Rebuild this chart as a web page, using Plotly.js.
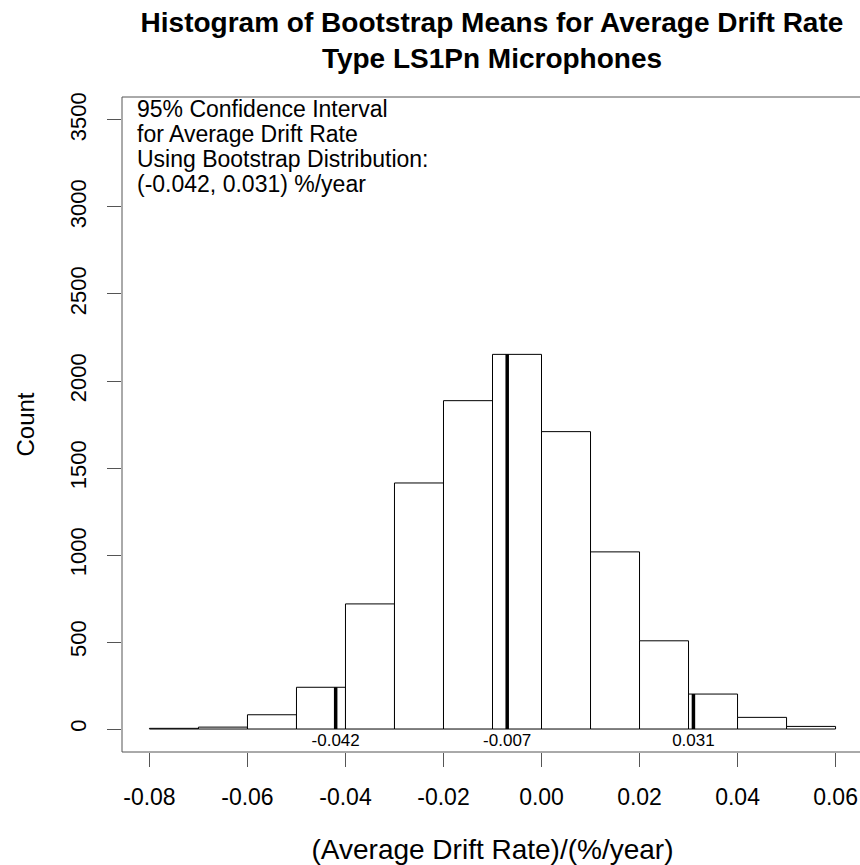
<!DOCTYPE html>
<html>
<head>
<meta charset="utf-8">
<script src="https://cdn.plot.ly/plotly-3.0.1.min.js"></script>
<style>html,body{margin:0;padding:0;background:#fff;overflow:hidden;}#chart{width:863px;height:865px;}</style>
</head>
<body>
<div id="chart"></div>
<script>
// ---- data ----
var binEdges = [-0.08, -0.07, -0.06, -0.05, -0.04, -0.03, -0.02, -0.01, 0.00, 0.01, 0.02, 0.03, 0.04, 0.05, 0.06];
var counts   = [4, 11, 82, 240, 719, 1414, 1887, 2153, 1709, 1018, 507, 201, 67, 15];
var ciValues = [-0.042, -0.007, 0.031];
var ciLabels = ['-0.042', '-0.007', '0.031'];
var xTickVals = [-0.08, -0.06, -0.04, -0.02, 0.00, 0.02, 0.04, 0.06];
var xTickText = ['-0.08', '-0.06', '-0.04', '-0.02', '0.00', '0.02', '0.04', '0.06'];
var yTickVals = [0, 500, 1000, 1500, 2000, 2500, 3000, 3500];
var yTickText = ['0', '500', '1000', '1500', '2000', '2500', '3000', '3500'];
var noteLines = ['95% Confidence Interval', 'for Average Drift Rate', 'Using Bootstrap Distribution:', '(-0.042, 0.031) %/year'];
var titleLines = ['Histogram of Bootstrap Means for Average Drift Rate', 'Type LS1Pn Microphones'];
var xTitle = '(Average Drift Rate)/(%/year)';
var yTitle = 'Count';

// ---- derived ----
var centers = [], widths = [];
for (var i = 0; i < counts.length; i++) {
  centers.push((binEdges[i] + binEdges[i + 1]) / 2);
  widths.push(binEdges[i + 1] - binEdges[i]);
}
function heightAt(v) {
  for (var i = 0; i < counts.length; i++) {
    if (v >= binEdges[i] && v < binEdges[i + 1]) return counts[i];
  }
  return 0;
}
var lx = [], ly = [];
ciValues.forEach(function (v) { lx.push(v, v, null); ly.push(0, heightAt(v), null); });

var FONT = 'Liberation Sans, Arial, sans-serif';
var LINE = '#555555';

var traces = [
  {
    type: 'bar', x: centers, y: counts, width: widths,
    marker: { color: '#ffffff', line: { color: '#000000', width: 1 } },
    hoverinfo: 'x+y', showlegend: false
  },
  {
    type: 'scatter', mode: 'lines', x: lx, y: ly,
    line: { color: '#000000', width: 3.5 }, showlegend: false, hoverinfo: 'skip'
  },
  {
    type: 'scatter', mode: 'text', x: ciValues, y: ciValues.map(function () { return -72; }),
    text: ciLabels, textposition: 'middle center',
    textfont: { family: FONT, size: 17, color: '#000' }, showlegend: false, hoverinfo: 'skip'
  }
];

var annotations = noteLines.map(function (t, i) {
  return {
    text: t, xref: 'paper', yref: 'paper', x: 0.018, y: 0.981 - i * 0.0380,
    xanchor: 'left', yanchor: 'middle', showarrow: false,
    font: { family: FONT, size: 23, color: '#000' }
  };
});

// plot frame (R box): left, top, bottom; the right side lies beyond the page
var shapes = [
  { type: 'line', xref: 'paper', yref: 'paper', x0: 0, x1: 0, y0: 0, y1: 1, line: { color: LINE, width: 1 } },
  { type: 'line', xref: 'paper', yref: 'paper', x0: 0, x1: 1, y0: 1, y1: 1, line: { color: LINE, width: 1 } },
  { type: 'line', xref: 'paper', yref: 'paper', x0: 0, x1: 1, y0: 0, y1: 0, line: { color: LINE, width: 1 } }
];

var layout = {
  width: 863, height: 865,
  margin: { l: 122, r: 0, t: 97, b: 113, pad: 0 },
  paper_bgcolor: '#ffffff', plot_bgcolor: '#ffffff',
  bargap: 0,
  title: {
    text: '<b>' + titleLines.join('<br>') + '</b>',
    font: { family: FONT, size: 28, color: '#000' },
    xref: 'paper', x: 0.4993, xanchor: 'center',
    yref: 'container', y: 0.963, yanchor: 'top'
  },
  xaxis: {
    range: [-0.0856, 0.0656], autorange: false,
    tickvals: xTickVals, ticktext: xTickText,
    ticks: 'outside', ticklen: 14, tickwidth: 1, tickcolor: LINE,
    ticklabelstandoff: 10,
    showline: false, showgrid: false, zeroline: false,
    tickfont: { family: FONT, size: 23, color: '#000' },
    title: { text: xTitle, font: { family: FONT, size: 28, color: '#000' }, standoff: 33 }
  },
  yaxis: {
    range: [-132, 3632], autorange: false,
    tickvals: yTickVals, ticktext: yTickText, tickangle: -90,
    ticks: 'outside', ticklen: 14, tickwidth: 1, tickcolor: LINE,
    ticklabelstandoff: 12,
    showline: false, showgrid: false, zeroline: false,
    tickfont: { family: FONT, size: 22, color: '#000' },
    title: { text: yTitle, font: { family: FONT, size: 24, color: '#000' }, standoff: 24 }
  },
  shapes: shapes,
  annotations: annotations,
  font: { family: FONT }
};

Plotly.newPlot('chart', traces, layout, { displayModeBar: false, staticPlot: true });
</script>
</body>
</html>
